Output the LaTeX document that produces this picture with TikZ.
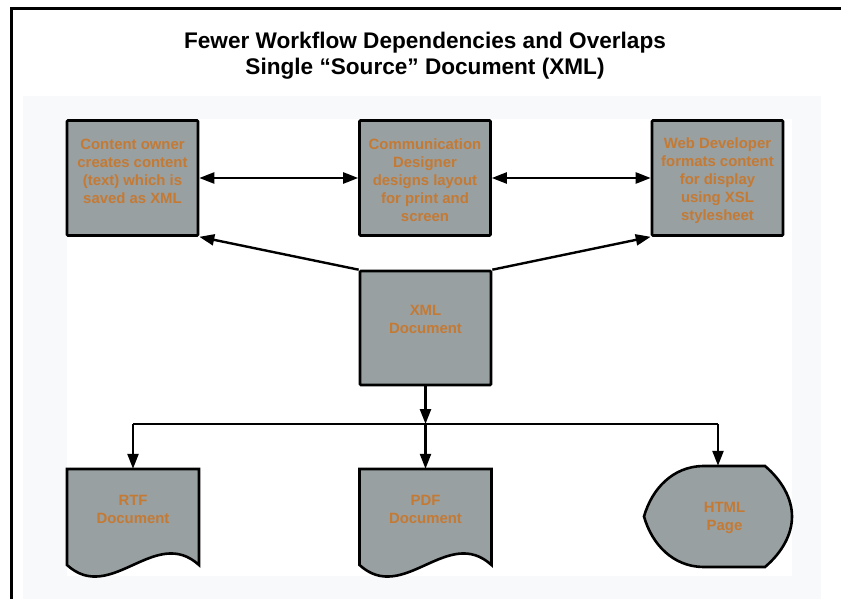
\documentclass[tikz,border=0pt]{standalone}
\usepackage{fontspec}
\setmainfont{Liberation Sans}
\usepackage{tikz}
\usetikzlibrary{arrows.meta}
\usepackage{xcolor}
\definecolor{boxgray}{RGB}{152,160,162}
\definecolor{txtorange}{RGB}{197,122,52}
\definecolor{bggray}{RGB}{248,249,251}

\begin{document}
\begin{tikzpicture}[x=1pt,y=-1pt,>={Triangle[length=15pt,width=11pt]},
  box/.style={draw=black,line width=2.6pt,fill=boxgray,rounded corners=1pt,
    minimum width=131pt,minimum height=115pt,inner sep=0pt,
    text depth=0pt,
    text=txtorange,align=center,font=\fontsize{14.9}{18}\selectfont\bfseries},
  doc/.style={inner sep=0pt,minimum width=132pt,minimum height=96pt,
    text height=12.6pt,text depth=0pt,
    text=txtorange,align=center,font=\fontsize{14.9}{18}\selectfont\bfseries},
  docbody/.style={draw=black,line width=2.6pt,fill=boxgray},
  conn/.style={line width=2.4pt}]
 \useasboundingbox (0,0) rectangle (841,599);
 \fill[bggray] (23,96) rectangle (821,599);
 \fill[white] (67,119) rectangle (792,576);
 \draw[line width=2.5pt] (11.5,599) -- (11.5,8.5) -- (841,8.5);

 \node[align=center,font=\fontsize{22.6}{26}\selectfont\bfseries] (title) at (425,56)
  {Fewer Workflow Dependencies and Overlaps\\Single “Source” Document (XML)};

 %%%%%%%%%%%%%%%%%%%%%%%%%%%%%%%%%%%
 \node[box,text height=51pt] (owner) at (132.5,178) {Content owner\\creates content\\(text) which is\\saved as XML};
 \node[box,text height=87pt] (designer) at (425,178) {Communication\\Designer\\designs layout\\for print and\\screen};
 \node[box,text height=85pt] (webdev) at (717.5,178) {Web Developer\\formats content\\for display\\using XSL\\stylesheet};
 \node[box,minimum height=114pt,text height=11pt] (xml) at (425.5,328) {XML\\Document};

 %%%%%%%%%%%%%%%%%%%%%%%%%%%%%%%%%%%
 \coordinate (rtfc) at (133,517);
 \coordinate (pdfc) at (425.5,517);
 \coordinate (htmlc) at (718,516.5);
 \draw[docbody,shift={(rtfc)}] (-66,-48) -- (66,-48) -- (66,48)
  .. controls (22,8) and (-22,88) .. (-66,48) -- cycle;
 \draw[docbody,shift={(pdfc)}] (-66,-48) -- (66,-48) -- (66,48)
  .. controls (22,8) and (-22,88) .. (-66,48) -- cycle;
 \draw[docbody,shift={(htmlc)}] (-15,-50.5) -- (47,-50.5)
  .. controls (64,-36) and (74,-18) .. (74,0)
  .. controls (74,18) and (64,36) .. (47,50.5) -- (-15,50.5)
  .. controls (-45,50) and (-66,28) .. (-74,0)
  .. controls (-66,-28) and (-45,-50) .. (-15,-50.5) -- cycle;
 \node[doc] (rtf) at (rtfc) {RTF\\Document};
 \node[doc] (pdf) at (pdfc) {PDF\\Document};
 \node[doc,minimum width=134pt,minimum height=101pt,text height=27.6pt] (html) at (724.5,516.5) {HTML\\Page};

 %%%%%%%%%%%%%%%%%%%%%%%%%%%%%%%%%%%
 \draw[conn,<->] (owner.east) -- (designer.west);
 \draw[conn,<->] (designer.east) -- (webdev.west);
 \draw[conn,->] (xml.north west) -- (owner.south east);
 \draw[conn,->] (xml.north east) -- (webdev.south west);
 \coordinate (split) at (425.5,424);
 \draw[conn,->] (xml.south) -- (split);
 \draw[conn] (split -| rtf.north) -- (split -| htmlc);
 \draw[conn,->] (split -| rtf.north) -- (rtf.north);
 \draw[conn,->] (split) -- (pdf.north);
 \draw[conn,->] (split -| htmlc) -- (htmlc |- html.north);
\end{tikzpicture}
\end{document}
